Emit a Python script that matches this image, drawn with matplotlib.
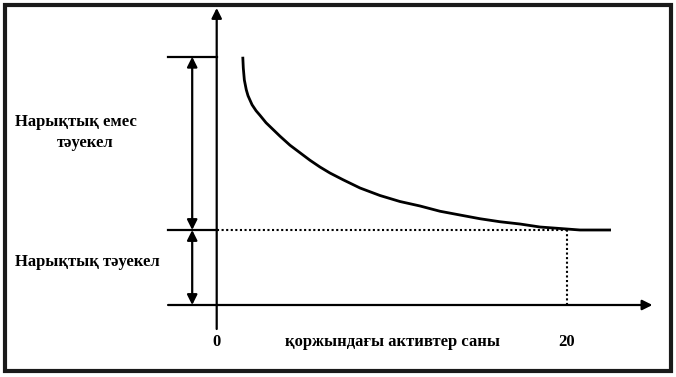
import matplotlib
matplotlib.use("Agg")
import matplotlib.pyplot as plt
from matplotlib.patches import Rectangle

# curve: number of assets vs. portfolio risk
# (risk unit = market risk level)
n_assets = [1.49, 1.52, 1.58, 1.69, 1.79, 2.02, 2.25, 2.47, 2.82, 3.22,
            3.62, 4.19, 4.76, 5.33, 5.90, 6.47, 7.22, 8.19, 9.33, 10.47,
            11.62, 12.76, 13.90, 15.05, 16.19, 17.33, 18.47, 19.62, 20.76,
            21.90, 22.53]
risk = [3.31, 3.16, 3.0, 2.87, 2.79, 2.67, 2.59, 2.53, 2.43, 2.34,
        2.25, 2.13, 2.03, 1.93, 1.84, 1.76, 1.67, 1.56, 1.46, 1.38,
        1.32, 1.25, 1.2, 1.15, 1.11, 1.08, 1.04, 1.02, 1.0,
        1.0, 1.0]

market_risk = 1.0
total_risk = 3.31
n_mark = 20

label_nonmarket = ["Нарықтық емес", "тәуекел"]
label_market = "Нарықтық тәуекел"
label_x = "қоржындағы активтер саны"
tick_labels = ["0", "20"]

W, H = 676, 377
fig = plt.figure(figsize=(W / 100, H / 100), dpi=100)
ax = fig.add_axes([0, 0, 1, 1])
# 17.5 px per asset, 75 px per risk unit, origin at pixel (216.7, 305)
ax.set_xlim(-216.7 / 17.5, (W - 216.7) / 17.5)
ax.set_ylim(-(H - 305) / 75, 305 / 75)
ax.axis("off")

font = dict(family="Liberation Serif", fontweight="bold", fontsize=12)
lw = 1.6

# frame
fig.patches.append(Rectangle((4.5 / W, 1 - 371 / H), 666.5 / W, 366.5 / H,
                             transform=fig.transFigure, fill=False,
                             edgecolor="#1a1a1a", linewidth=3.0))

arrow = dict(color="black", lw=lw, mutation_scale=15, shrinkA=0, shrinkB=0)

# axes arrows
ax.annotate("", xy=(0, 3.96), xytext=(0, -0.32),
            arrowprops=dict(arrowstyle="-|>", **arrow))
ax.annotate("", xy=(24.9, 0), xytext=(-2.78, 0),
            arrowprops=dict(arrowstyle="-|>", **arrow))

# level lines
ax.plot([-2.78, 0], [total_risk, total_risk], color="black", lw=lw)
ax.plot([-2.78, 0], [market_risk, market_risk], color="black", lw=lw)
ax.plot([0, n_mark], [market_risk, market_risk], color="black", lw=1.5,
        linestyle=(0, (1, 1.2)))
ax.plot([n_mark, n_mark], [0, market_risk], color="black", lw=1.5,
        linestyle=(0, (1, 1.2)))

# double arrows
xa = -1.4
ax.annotate("", xy=(xa, total_risk), xytext=(xa, market_risk),
            arrowprops=dict(arrowstyle="<|-|>", **arrow))
ax.annotate("", xy=(xa, market_risk), xytext=(xa, 0),
            arrowprops=dict(arrowstyle="<|-|>", **arrow))

# risk curve
ax.plot(n_assets, risk, color="black", lw=2.0, solid_capstyle="butt",
        solid_joinstyle="round")

# labels
ax.text(-11.53, 2.44, label_nonmarket[0], ha="left", va="center", **font)
ax.text(-7.5, 2.16, label_nonmarket[1], ha="center", va="center", **font)
ax.text(-11.53, 0.57, label_market, ha="left", va="center", **font)
ax.text(0, -0.5, tick_labels[0], ha="center", va="center", **font)
ax.text(n_mark, -0.5, tick_labels[1], ha="center", va="center", **font)
ax.text(3.9, -0.5, label_x, ha="left", va="center", **font)

fig.savefig("out.png", dpi=100)
